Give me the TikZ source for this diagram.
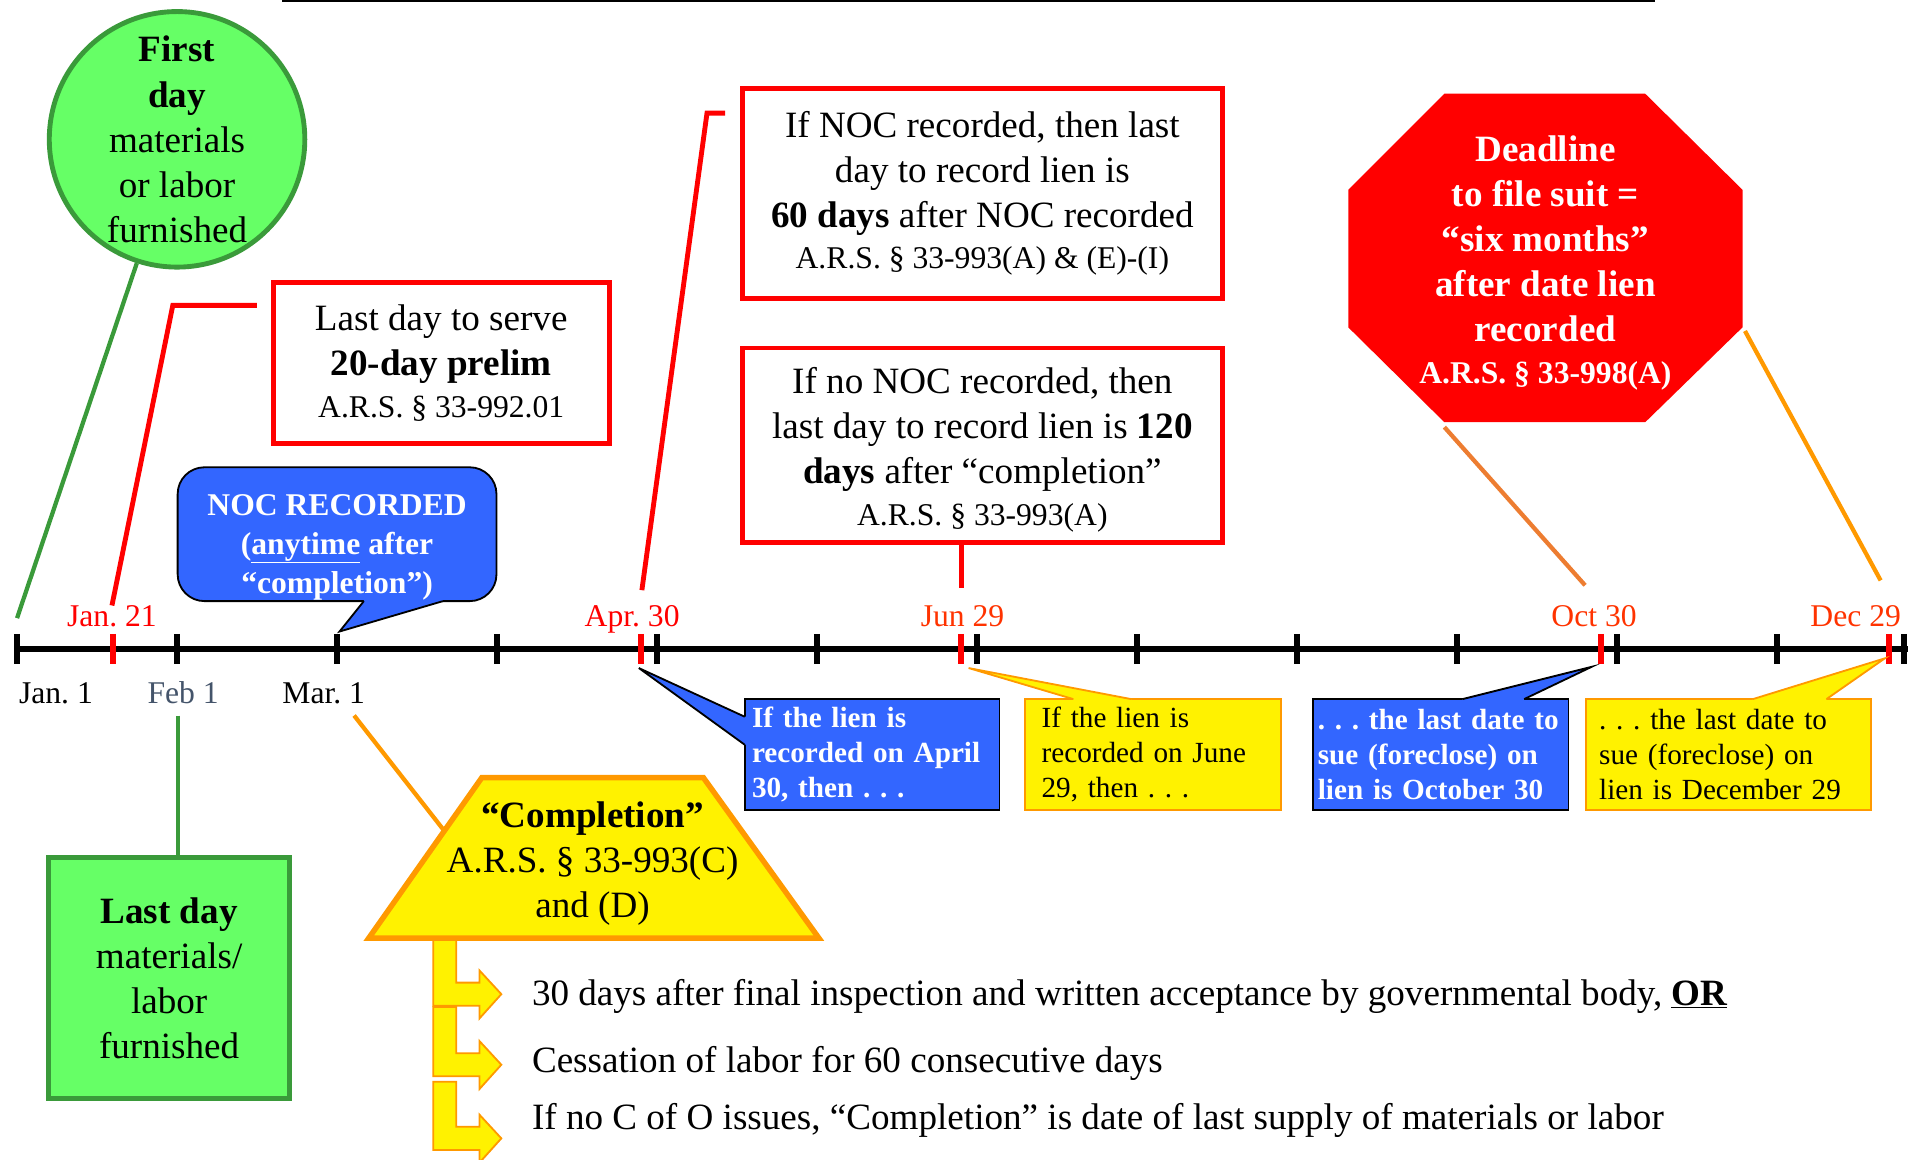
\documentclass[tikz,border=0pt]{standalone}
\usepackage{fontspec}
\setmainfont{Liberation Serif}
\frenchspacing

\definecolor{lightgreen}{HTML}{66FF66}
\definecolor{darkgreen}{HTML}{3A9A3A}
\definecolor{nocblue}{HTML}{3366FF}
\definecolor{lineorange}{HTML}{FF9900}
\definecolor{darkorange}{HTML}{ED7D31}
\definecolor{datered}{HTML}{FF3300}
\definecolor{slategray}{HTML}{44546A}

\newcommand{\mainsize}{\fontsize{30.5}{37}\selectfont}
\newcommand{\arssize}{\fontsize{26}{31}\selectfont}
\newcommand{\notesize}{\fontsize{24}{29}\selectfont}
\newcommand{\nocsize}{\fontsize{26}{32}\selectfont}

\begin{document}
\begin{tikzpicture}[x=1pt, y=-1pt,
    redbox/.style={draw=red, line width=4pt, fill=white, inner sep=0pt, align=center, font=\mainsize},
    greenbox/.style={draw=darkgreen, line width=4pt, fill=lightgreen, inner sep=0pt, align=center, font=\mainsize},
    datelabel/.style={inner sep=0pt, anchor=base, font=\arssize},
    bluenote/.style={draw=black, line width=1.5pt, fill=nocblue, text=white, inner ysep=0pt, minimum height=91pt, align=left, font=\notesize\bfseries},
    yellownote/.style={draw=lineorange, line width=1.5pt, fill=yellow, inner ysep=0pt, minimum height=91pt, align=left, font=\notesize},
    tickmark/.style={line width=5pt},
    bentarrow/.style={draw=lineorange, line width=1.5pt, fill=yellow},
    redline/.style={red, line width=4pt},
    ruletext/.style={font=\mainsize, anchor=base west, inner sep=0pt}]
        \useasboundingbox (0,0) rectangle (1568,953);

        % Rule along the top
        \draw[line width=2pt] (232,1) -- (1360,1);

        % Time line
        \draw[line width=5pt] (14,533) -- (1568,533);
        \foreach \i in {0,...,11}
            \draw[tickmark] (14+131.5*\i,521) -- (14+131.5*\i,546);
        \draw[tickmark] (1565,521) -- (1565,546);
        \foreach \x in {93,527,790,1316,1552}
            \draw[tickmark, red] (\x,521) -- (\x,546);

        % Dates
        \node[datelabel, text=red] (jan21) at (92,515) {Jan. 21};
        \node[datelabel, text=red] (apr30) at (519.5,515) {Apr. 30};
        \node[datelabel, text=datered] (jun29) at (791,515) {Jun 29};
        \node[datelabel, text=datered] (oct30) at (1310,515) {Oct 30};
        \node[datelabel, text=datered] (dec29) at (1525,515) {Dec 29};
        \node[datelabel] (jan1) at (46,578) {Jan. 1};
        \node[datelabel, text=slategray] (feb1) at (150.5,578) {Feb 1};
        \node[datelabel] (mar1) at (266,578) {Mar. 1};

        % First day
        \node[greenbox, circle, minimum size=210pt] (firstday) at (145.5,114.5)
            {\textbf{First}\\\textbf{day}\\materials\\or labor\\furnished};
        \coordinate (jan1end) at (14,508);
        \draw[darkgreen, line width=3.5pt] (firstday.252) -- (jan1end);

        % Preliminary notice
        \node[redbox, minimum width=276pt, minimum height=133pt] (prelim) at (362.6,298.3)
            {Last day to serve\\\textbf{20-day prelim}\\[-3pt]{\arssize A.R.S. § 33-992.01}};
        \coordinate (prelimend) at (211,251);
        \draw[redline] (prelimend) -- (142,251) -- (jan21.north);

        % Lien deadlines
        \node[redbox, minimum width=394.5pt, minimum height=172pt] (noc60) at (807.3,159)
            {If NOC recorded, then last\\day to record lien is\\\textbf{60 days} after NOC recorded\\[-3pt]{\arssize A.R.S. § 33-993(A) \& (E)-(I)}};
        \coordinate (noc60end) at (596,93);
        \coordinate (apr30end) at (527.5,485);
        \draw[redline] (apr30end) -- (581,93) -- (noc60end);

        \node[redbox, minimum width=394.5pt, minimum height=160pt] (noc120) at (807.3,366)
            {\rule{0pt}{29pt}If no NOC recorded, then\\last day to record lien is \textbf{120}\\\textbf{days} after “completion”\\[-3pt]{\arssize A.R.S. § 33-993(A)}};
        \coordinate (jun29end) at (790,483);
        \draw[redline] (noc120.south -| jun29end) -- (jun29end);

        % Deadline to file suit
        \fill[red] (1187,77) -- (1352,77) -- (1432,156) -- (1432,269) -- (1352,347)
            -- (1187,347) -- (1108,269) -- (1108,156) -- cycle;
        \node[font=\mainsize\bfseries, text=white, align=center] (deadline) at (1270,216)
            {Deadline\\to file suit =\\“six months”\\after date lien\\recorded\\[-3pt]{\arssize A.R.S. § 33-998(A)}};
        \coordinate (octleft) at (1187,351);
        \coordinate (octright) at (1434,272);
        \coordinate (oct30end) at (1302.6,481);
        \coordinate (dec29end) at (1545.5,477);
        \draw[darkorange, line width=3.5pt] (octleft) -- (oct30end);
        \draw[lineorange, line width=3.5pt] (octright) -- (dec29end);

        % NOC recorded
        \node[draw=black, line width=1.5pt, fill=nocblue, rounded corners=22pt,
            minimum width=262pt, minimum height=110pt] (nocbox) at (277,439) {};
        \coordinate (mar1top) at (279,519);
        \fill[nocblue] (299,494) -- (mar1top) -- (364,494) -- (364,490) -- (299,490) -- cycle;
        \draw[line width=1.5pt] (299,494) -- (mar1top) -- (364,494);
        \node[font=\nocsize\bfseries, text=white, align=center] (noc) at (277,449.5)
            {NOC RECORDED\\(\underline{anytime} after\\“completion”)};

        % If the lien is recorded ...
        \node[bluenote, text width=197.4pt, inner xsep=6pt] (aprnote) at (716.7,620)
            {If the lien is\\recorded on April\\30, then . . .};
        \coordinate (apr30tip) at (525,549);
        \fill[nocblue] (612,589) -- (apr30tip) -- (612,612) -- (616,612) -- (616,589) -- cycle;
        \draw[line width=1.5pt] (612,589) -- (apr30tip) -- (612,612);

        \node[yellownote, text width=183pt, inner xsep=13.5pt] (junnote) at (947.5,620)
            {If the lien is\\recorded on June\\29, then . . .};
        \coordinate (jun29tip) at (796,549);
        \fill[yellow] (882,574.5) -- (jun29tip) -- (929.5,574.5) -- (929.5,578) -- (882,578) -- cycle;
        \draw[lineorange, line width=1.5pt] (882,574.5) -- (jun29tip) -- (929.5,574.5);

        % ... the last date to sue
        \node[bluenote, text width=202pt, inner xsep=4pt] (octnote) at (1184,620)
            {. . . the last date to\\sue (foreclose) on\\lien is October 30};
        \coordinate (oct30tip) at (1308,548);
        \fill[nocblue] (1202,574.5) -- (oct30tip) -- (1252.6,574.5) -- (1252.6,578) -- (1202,578) -- cycle;
        \draw[line width=1.5pt] (1202,574.5) -- (oct30tip) -- (1252.6,574.5);

        \node[yellownote, text width=212.6pt, inner xsep=11pt] (decnote) at (1420.5,620)
            {. . . the last date to\\sue (foreclose) on\\lien is December 29};
        \coordinate (dec29tip) at (1549,541);
        \fill[yellow] (1440.6,574.5) -- (dec29tip) -- (1501,574.5) -- (1501,578) -- (1440.6,578) -- cycle;
        \draw[lineorange, line width=1.5pt] (1440.6,574.5) -- (dec29tip) -- (1501,574.5);

        % Last day
        \node[greenbox, minimum width=198pt, minimum height=198pt] (lastday) at (139,803.7)
            {\textbf{Last day}\\materials/\\labor\\furnished};
        \coordinate (feb1end) at (146,588);
        \draw[darkgreen, line width=3.5pt] (feb1end) -- (feb1end |- lastday.north);

        % Completion rules
        \foreach \t/\h in {772.5/807.5, 827.5/865.5, 889/926}
            \filldraw[bentarrow] (356,\t) -- (375,\t) -- (375,\h) -- (394,\h) -- (394,\h-10)
                -- (412,\h+9.5) -- (394,\h+29.5) -- (394,\h+19) -- (356,\h+19) -- cycle;
        \node[ruletext] (rule1) at (437,826)
            {30 days after final inspection and written acceptance by governmental body, \textbf{\underline{OR}}};
        \node[ruletext] (rule2) at (437,881.5) {Cessation of labor for 60 consecutive days};
        \node[ruletext] (rule3) at (437,928)
            {If no C of O issues, “Completion” is date of last supply of materials or labor};

        % Completion
        \filldraw[draw=lineorange, fill=yellow, line width=4.5pt] (396,639) -- (578,639) -- (673,771) -- (303,771) -- cycle;
        \node[font=\mainsize, align=center] (completion) at (487,710)
            {\textbf{“Completion”}\\A.R.S. § 33-993(C)\\and (D)};
        \coordinate (mar1end) at (291,588);
        \coordinate (trapside) at (364.5,682);
        \draw[lineorange, line width=3.5pt] (mar1end) -- (trapside);
    \end{tikzpicture}
\end{document}
